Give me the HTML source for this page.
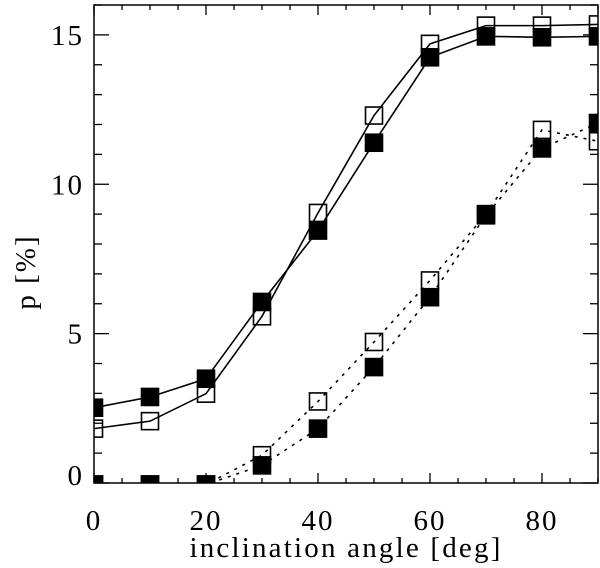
<!DOCTYPE html>
<html><head><meta charset="utf-8"><style>
html,body{margin:0;padding:0;background:#fff;}
svg{display:block;font-family:"Liberation Serif",serif;}
</style></head><body>
<svg id="chart" width="600" height="568" viewBox="0 0 600 568"></svg>
<script>
const xCats=[0,10,20,30,40,50,60,70,80,90];
const solidOpen=[1.82,2.07,2.99,5.58,9.04,12.3,14.7,15.31,15.31,15.35];
const solidFilled=[2.52,2.88,3.49,6.06,8.45,11.39,14.25,14.95,14.92,14.95];
const dottedOpen=[-0.05,-0.05,-0.05,0.93,2.73,4.72,6.78,9.0,11.82,11.44];
const dottedFilled=[-0.05,-0.05,-0.05,0.59,1.82,3.88,6.22,8.96,11.2,12.05];
const xTicks=[0,20,40,60,80];
const yTicks=[0,5,10,15];
const X0=94,X1=598,Y0=483,Y1=5,xmin=0,xmax=90,ymin=0,ymax=16;
function sx(v){return X0+(v-xmin)/(xmax-xmin)*(X1-X0);}
function sy(v){return Y0-(v-ymin)/(ymax-ymin)*(Y0-Y1);}
const NS="http://www.w3.org/2000/svg";
const svg=document.getElementById('chart');
function mk(t,a,p){const e=document.createElementNS(NS,t);for(const k in a)e.setAttribute(k,a[k]);(p||svg).appendChild(e);return e;}
const clip=mk('clipPath',{id:'pc'});mk('rect',{x:X0,y:Y1,width:X1-X0,height:Y0-Y1},clip);
const frame=mk('rect',{x:X0,y:Y1,width:X1-X0,height:Y0-Y1,fill:'none',stroke:'#000','stroke-width':1.5});


for(let v=0;v<=90;v+=5){const maj=v%20===0;const L=maj?10:5;
 const t1=mk('line',{x1:sx(v),x2:sx(v),y1:Y0,y2:Y0-L,stroke:'#000','stroke-width':1.3});
 
 
 const t2=mk('line',{x1:sx(v),x2:sx(v),y1:Y1,y2:Y1+L,stroke:'#000','stroke-width':1.3});
 
 }
xTicks.forEach(v=>{const t=mk('text',{x:sx(v),y:530,'text-anchor':'middle','font-size':29,'letter-spacing':2});t.textContent=v;
 
 });
for(let v=0;v<=16;v+=1){const maj=v%5===0;const L=maj?15:8;
 const t1=mk('line',{x1:X0,x2:X0+L,y1:sy(v),y2:sy(v),stroke:'#000','stroke-width':1.3});
 
 
 const t2=mk('line',{x1:X1,x2:X1-L,y1:sy(v),y2:sy(v),stroke:'#000','stroke-width':1.3});
 
 }
yTicks.forEach(v=>{const t=mk('text',{x:84,y:sy(v)+(v===0?2:10),'text-anchor':'end','font-size':29,'letter-spacing':2});t.textContent=v;
 
 });
const xl=mk('text',{x:346,y:557,'text-anchor':'middle','font-size':29,'letter-spacing':2.2});xl.textContent='inclination angle [deg]';


const yl=mk('text',{x:0,y:0,'text-anchor':'middle','font-size':29,'letter-spacing':2,transform:'translate(35,272) rotate(-90)'});yl.textContent='p [%]';


const g=mk('g',{'clip-path':'url(#pc)'});
function series(vals,dash,filled,name){
 const pts=xCats.map((c,i)=>sx(c)+','+sy(vals[i])).join(' ');
 const a={points:pts,fill:'none',stroke:'#000','stroke-width':1.6};if(dash)a['stroke-dasharray']='3,6';
 const l=mk('polyline',a,g);
 
 
 xCats.forEach((c,i)=>{const s=17;
  const r=mk('rect',{x:sx(c)-s/2,y:sy(vals[i])-s/2,width:s,height:s,fill:filled?'#000':'none',stroke:'#000','stroke-width':1.6},g);
  
  });
}
series(solidOpen,false,false,'solid-open');
series(solidFilled,false,true,'solid-filled');
series(dottedOpen,true,false,'dotted-open');
series(dottedFilled,true,true,'dotted-filled');
</script>
</body></html>
